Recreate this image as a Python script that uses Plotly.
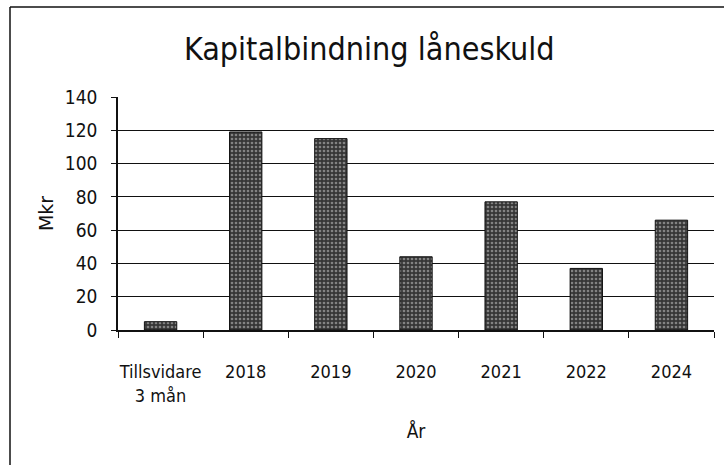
import plotly.graph_objects as go

# Kapitalbindning per förfalloår (Mkr)
categories = ["Tillsvidare<br>3 mån", "2018", "2019", "2020", "2021", "2022", "2024"]
values = [5, 119, 115, 44, 77, 37, 66]
y_ticks = [0, 20, 40, 60, 80, 100, 120, 140]

FONT = "DejaVu Sans Condensed, Liberation Sans Narrow, sans-serif"

fig = go.Figure(
    go.Bar(
        x=categories,
        y=values,
        marker=dict(
            color="#363636",
            line=dict(color="#111111", width=1),
            pattern=dict(shape=".", fgcolor="#d0d0d0", bgcolor="#363636",
                         size=4, solidity=0.35),
        ),
        width=0.38,
        hoverinfo="x+y",
    )
)

fig.update_layout(
    width=724,
    height=465,
    paper_bgcolor="white",
    plot_bgcolor="white",
    margin=dict(l=118, r=10, t=97, b=135, autoexpand=False),
    showlegend=False,
    title=dict(
        text="Kapitalbindning låneskuld",
        font=dict(family=FONT, size=32, color="#111111"),
        x=0.51, xref="container", xanchor="center",
        y=0.895, yref="container", yanchor="middle",
    ),
    xaxis=dict(
        type="category",
        automargin=False,
        showline=True, linecolor="#111111", linewidth=1.5,
        ticks="outside", tickson="boundaries", ticklen=6, tickcolor="#111111",
        ticklabelstandoff=25, tickangle=0,
        tickfont=dict(family=FONT, size=18, color="#111111"),
        showgrid=False,
        title=dict(text="År", font=dict(family=FONT, size=19, color="#111111"),
                   standoff=20),
    ),
    yaxis=dict(
        range=[0, 140],
        automargin=False,
        tickvals=y_ticks,
        showline=True, linecolor="#111111", linewidth=1.5,
        ticks="outside", ticklen=5, tickcolor="#111111",
        ticklabelstandoff=10,
        tickfont=dict(family=FONT, size=19, color="#111111"),
        showgrid=True, gridcolor="#111111", gridwidth=1,
        zeroline=False,
        title=dict(text="Mkr", font=dict(family="DejaVu Sans, sans-serif",
                                         size=19, color="#111111"),
                   standoff=6),
    ),
    shapes=[
        # outer chart frame (left and top edges)
        dict(type="line", xref="paper", yref="paper",
             x0=-108 / 596, x1=-108 / 596, y0=1 + 90 / 233, y1=-135 / 233,
             line=dict(color="#111111", width=1.5)),
        dict(type="line", xref="paper", yref="paper",
             x0=-108 / 596, x1=1 + 10 / 596, y0=1 + 90 / 233, y1=1 + 90 / 233,
             line=dict(color="#111111", width=1.5)),
    ],
)

fig.write_html("out.html")
